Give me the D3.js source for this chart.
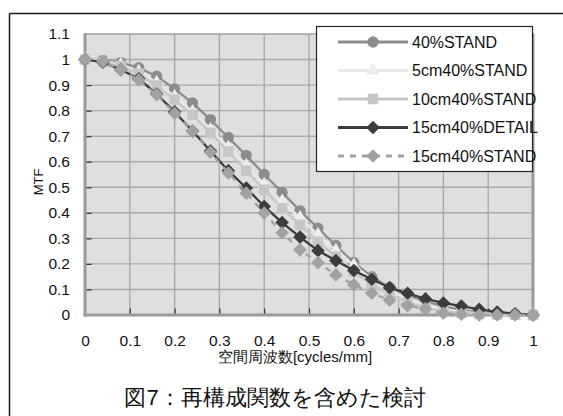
<!DOCTYPE html>
<html>
<head>
<meta charset="utf-8">
<script src="https://cdn.jsdelivr.net/npm/d3@7"></script>
<style>
  html, body { margin: 0; padding: 0; background: #fff; }
  svg { display: block; }
  text { font-family: "Liberation Sans", Arial, sans-serif; fill: #111; }
</style>
</head>
<body>
<svg id="chart" width="563" height="416"></svg>
<script>
// Spatial frequency samples [cycles/mm]
const freq = [0, 0.04, 0.08, 0.12, 0.16, 0.2, 0.24, 0.28, 0.32, 0.36, 0.4, 0.44, 0.48,
              0.52, 0.56, 0.6, 0.64, 0.68, 0.72, 0.76, 0.8, 0.84, 0.88, 0.92, 0.96, 1.0];

// MTF per reconstruction setting
const mtf40Stand = [1.0, 0.998, 0.988, 0.968, 0.935, 0.885, 0.83, 0.765, 0.695, 0.625, 0.55, 0.48, 0.408,
                    0.34, 0.272, 0.206, 0.15, 0.108, 0.078, 0.053, 0.034, 0.02, 0.01, 0.005, 0.002, 0.0];
const mtf5cmStand = [1.0, 0.996, 0.98, 0.953, 0.91, 0.855, 0.795, 0.725, 0.655, 0.585, 0.51, 0.445, 0.38,
                     0.315, 0.252, 0.194, 0.14, 0.097, 0.063, 0.039, 0.022, 0.012, 0.006, 0.003, 0.001, 0.0];
const mtf10cmStand = [1.0, 0.99, 0.975, 0.945, 0.898, 0.843, 0.784, 0.713, 0.64, 0.565, 0.49, 0.418, 0.353,
                      0.287, 0.229, 0.17, 0.12, 0.08, 0.05, 0.028, 0.015, 0.008, 0.004, 0.002, 0.001, 0.0];
const mtf15cmDetail = [1.0, 0.99, 0.96, 0.925, 0.865, 0.795, 0.72, 0.642, 0.565, 0.497, 0.425, 0.362, 0.305,
                       0.252, 0.213, 0.174, 0.14, 0.107, 0.085, 0.063, 0.047, 0.035, 0.022, 0.012, 0.005, 0.0];
const mtf15cmStand = [1.0, 0.993, 0.96, 0.92, 0.862, 0.79, 0.72, 0.637, 0.556, 0.477, 0.399, 0.322, 0.255,
                      0.205, 0.157, 0.118, 0.085, 0.058, 0.036, 0.024, 0.007, 0.003, 0.0, 0.0, 0.0, 0.0];

const seriesNames = ["40%STAND", "5cm40%STAND", "10cm40%STAND", "15cm40%DETAIL", "15cm40%STAND"];
const seriesValues = [mtf40Stand, mtf5cmStand, mtf10cmStand, mtf15cmDetail, mtf15cmStand];

const xTicks = [0, 0.1, 0.2, 0.3, 0.4, 0.5, 0.6, 0.7, 0.8, 0.9, 1];
const xTickLabels = ["0", "0.1", "0.2", "0.3", "0.4", "0.5", "0.6", "0.7", "0.8", "0.9", "1"];
const yTicks = [0, 0.1, 0.2, 0.3, 0.4, 0.5, 0.6, 0.7, 0.8, 0.9, 1, 1.1];
const yTickLabels = ["0", "0.1", "0.2", "0.3", "0.4", "0.5", "0.6", "0.7", "0.8", "0.9", "1", "1.1"];

const xTitle = "空間周波数[cycles/mm]";
const yTitle = "MTF";
const caption = "図7：再構成関数を含めた検討";

// Visual style per series
const styles = [
  { line: "#8c8c8c", fill: "#8c8c8c", dash: null, marker: "circle" },
  { line: "#e9e9e9", fill: "#ededed", dash: null, marker: "triangle" },
  { line: "#c6c6c6", fill: "#c6c6c6", dash: null, marker: "square" },
  { line: "#3c3c3c", fill: "#3c3c3c", dash: null, marker: "diamond" },
  { line: "#a2a2a2", fill: "#a2a2a2", dash: "6,6", marker: "diamond" }
];

const svg = d3.select("#chart");
const plot = { left: 85, top: 34, right: 533, bottom: 315 };

const x = d3.scaleLinear().domain([0, 1]).range([plot.left, plot.right]);
const y = d3.scaleLinear().domain([0, 1.1]).range([plot.bottom, plot.top]);

// Outer figure frame (top and left edges)
svg.append("line").attr("x1", 9.5).attr("y1", 13.5).attr("x2", 563).attr("y2", 13.5)
  .attr("stroke", "#1a1a1a").attr("stroke-width", 1.5);
svg.append("line").attr("x1", 9.5).attr("y1", 13.5).attr("x2", 9.5).attr("y2", 416)
  .attr("stroke", "#1a1a1a").attr("stroke-width", 1.5);

// Plot background
svg.append("rect")
  .attr("x", plot.left).attr("y", plot.top)
  .attr("width", plot.right - plot.left).attr("height", plot.bottom - plot.top)
  .attr("fill", "#dfdfdf");

// Grid
const grid = svg.append("g");
grid.selectAll("line.v").data(xTicks.slice(1, -1)).join("line")
  .attr("x1", d => x(d)).attr("x2", d => x(d))
  .attr("y1", plot.top).attr("y2", plot.bottom)
  .attr("stroke", "#a9a9a9").attr("stroke-width", 1.4);
grid.selectAll("line.h").data(yTicks.slice(1, -1)).join("line")
  .attr("x1", plot.left).attr("x2", plot.right)
  .attr("y1", d => y(d)).attr("y2", d => y(d))
  .attr("stroke", "#a9a9a9").attr("stroke-width", 1.4);

// Plot border
svg.append("line").attr("x1", plot.left).attr("x2", plot.right)
  .attr("y1", plot.top).attr("y2", plot.top)
  .attr("stroke", "#a0a0a0").attr("stroke-width", 1.6);
svg.append("line").attr("x1", plot.left).attr("x2", plot.left)
  .attr("y1", plot.top - 0.8).attr("y2", plot.bottom + 1.5)
  .attr("stroke", "#9a9a9a").attr("stroke-width", 3);
svg.append("line").attr("x1", plot.right).attr("x2", plot.right)
  .attr("y1", plot.top - 0.8).attr("y2", plot.bottom + 1.5)
  .attr("stroke", "#9a9a9a").attr("stroke-width", 3);
svg.append("line").attr("x1", plot.left - 1.5).attr("x2", plot.right + 1.5)
  .attr("y1", plot.bottom).attr("y2", plot.bottom)
  .attr("stroke", "#9a9a9a").attr("stroke-width", 3.2);

// Axes: short inside ticks, labels outside
const yAxis = d3.axisLeft(y).tickValues(yTicks)
  .tickFormat((d, i) => yTickLabels[i]).tickSize(-5).tickPadding(15);
const gy = svg.append("g").attr("transform", `translate(${plot.left},0)`).call(yAxis);
gy.select(".domain").remove();
gy.selectAll(".tick line").attr("stroke", "#333").attr("stroke-width", 1.2)
  .attr("transform", "translate(1.5,0)");
gy.selectAll(".tick").filter(d => d === 0 || d === 1.1).select("line").remove();
gy.selectAll("text").attr("font-size", 15.5).attr("fill", "#111")
  .attr("font-family", "'Liberation Sans', Arial, sans-serif");

const xAxis = d3.axisBottom(x).tickValues(xTicks)
  .tickFormat((d, i) => xTickLabels[i]).tickSize(-5).tickPadding(20);
const gx = svg.append("g").attr("transform", `translate(0,${plot.bottom})`).call(xAxis);
gx.select(".domain").remove();
gx.selectAll(".tick line").attr("stroke", "#333").attr("stroke-width", 1.2)
  .attr("transform", "translate(0,-1.5)");
gx.selectAll(".tick").filter(d => d === 0 || d === 1).select("line").remove();
gx.selectAll("text").attr("font-size", 15.5).attr("fill", "#111")
  .attr("font-family", "'Liberation Sans', Arial, sans-serif");

// Axis titles
svg.append("text").attr("x", 295).attr("y", 362)
  .attr("text-anchor", "middle").attr("font-size", 15)
  .attr("font-family", "'Noto Sans CJK JP', 'Liberation Sans', sans-serif")
  .text(xTitle);
svg.append("text").attr("transform", "translate(43,182) rotate(-90)")
  .attr("text-anchor", "middle").attr("font-size", 13)
  .text(yTitle);

// Marker shapes
function markerPath(kind) {
  if (kind === "circle") return d3.symbol(d3.symbolCircle, 100)();
  if (kind === "triangle") return d3.symbol(d3.symbolTriangle, 80)();
  if (kind === "square") return d3.symbol(d3.symbolSquare, 110)();
  // diamond: square rotated 45 degrees
  const r = 6.8;
  return `M0,${-r}L${r},0L0,${r}L${-r},0Z`;
}

const lineGen = d3.line().x(d => x(d[0])).y(d => y(d[1]));

// Series: line then markers, drawn in legend order
const seriesG = svg.append("g");
seriesValues.forEach((vals, i) => {
  const st = styles[i];
  const pts = freq.map((f, k) => [f, vals[k]]);
  const g = seriesG.append("g");
  g.append("path").datum(pts)
    .attr("d", lineGen)
    .attr("fill", "none")
    .attr("stroke", st.line)
    .attr("stroke-width", 2.3)
    .attr("stroke-dasharray", st.dash);
  g.selectAll("path.m").data(pts).join("path")
    .attr("class", "m")
    .attr("d", markerPath(st.marker))
    .attr("transform", d => `translate(${x(d[0])},${y(d[1])})`)
    .attr("fill", st.fill);
});

// Legend
const legend = svg.append("g");
legend.append("rect").attr("x", 316.5).attr("y", 26.5).attr("width", 216).attr("height", 145)
  .attr("fill", "#fff").attr("stroke", "#222").attr("stroke-width", 1.2);
seriesNames.forEach((name, i) => {
  const st = styles[i];
  const ly = 42 + i * 28.5;
  legend.append("line").attr("x1", 338).attr("x2", 408).attr("y1", ly).attr("y2", ly)
    .attr("stroke", st.line).attr("stroke-width", 2.8)
    .attr("stroke-dasharray", st.dash);
  legend.append("path").attr("d", markerPath(st.marker))
    .attr("transform", `translate(373,${ly})`).attr("fill", st.fill);
  legend.append("text").attr("x", 412).attr("y", ly).attr("dy", "0.36em")
    .attr("font-size", 16).text(name);
});

// Figure caption
svg.append("text").attr("x", 275).attr("y", 405)
  .attr("text-anchor", "middle").attr("font-size", 22).attr("fill", "#2a2a2a")
  .attr("font-family", "'Noto Serif CJK JP', 'Noto Sans CJK JP', serif")
  .text(caption);
</script>
</body>
</html>
